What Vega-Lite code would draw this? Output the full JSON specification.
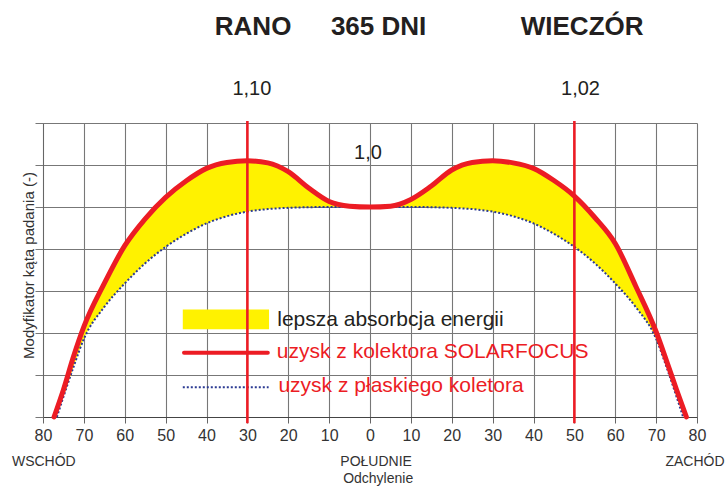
{
  "$schema": "https://vega.github.io/schema/vega-lite/v6.json",
  "width": 654,
  "height": 294,
  "autosize": "none",
  "padding": {"left": 43, "top": 123, "right": 30, "bottom": 69},
  "background": "white",
  "config": {
    "view": {"stroke": null},
    "font": "Liberation Sans",
    "text": {"font": "Liberation Sans"}
  },
  "datasets": {
    "band": [
      {"x": -77, "solar": 0, "flat": 0},
      {"x": -75, "solar": 0.65, "flat": 0.48},
      {"x": -72.5, "solar": 1.45, "flat": 1.2},
      {"x": -70, "solar": 2.15, "flat": 1.86},
      {"x": -65, "solar": 3.18, "flat": 2.62},
      {"x": -60, "solar": 4.08, "flat": 3.18},
      {"x": -55, "solar": 4.72, "flat": 3.66},
      {"x": -50, "solar": 5.23, "flat": 4.05},
      {"x": -45, "solar": 5.62, "flat": 4.36},
      {"x": -40, "solar": 5.92, "flat": 4.61},
      {"x": -35, "solar": 6.06, "flat": 4.78},
      {"x": -30, "solar": 6.1, "flat": 4.89},
      {"x": -25, "solar": 6.05, "flat": 4.95},
      {"x": -20, "solar": 5.84, "flat": 4.98},
      {"x": -15, "solar": 5.45, "flat": 4.995},
      {"x": -10, "solar": 5.13, "flat": 5.0},
      {"x": -5, "solar": 5.02, "flat": 5.0},
      {"x": 0, "solar": 5.0, "flat": 5.0},
      {"x": 5, "solar": 5.02, "flat": 5.0},
      {"x": 10, "solar": 5.18, "flat": 5.0},
      {"x": 15, "solar": 5.5, "flat": 4.995},
      {"x": 20, "solar": 5.88, "flat": 4.98},
      {"x": 25, "solar": 6.06, "flat": 4.95},
      {"x": 30, "solar": 6.1, "flat": 4.89},
      {"x": 35, "solar": 6.05, "flat": 4.78},
      {"x": 40, "solar": 5.92, "flat": 4.61},
      {"x": 45, "solar": 5.63, "flat": 4.36},
      {"x": 50, "solar": 5.26, "flat": 4.05},
      {"x": 55, "solar": 4.75, "flat": 3.66},
      {"x": 60, "solar": 4.13, "flat": 3.18},
      {"x": 65, "solar": 3.12, "flat": 2.62},
      {"x": 70, "solar": 2.03, "flat": 1.86},
      {"x": 72.5, "solar": 1.35, "flat": 1.2},
      {"x": 75, "solar": 0.65, "flat": 0.48},
      {"x": 77, "solar": 0, "flat": 0}
    ],
    "solar": [
      {"x": -77.3, "y": 0},
      {"x": -75, "y": 0.65},
      {"x": -72.5, "y": 1.45},
      {"x": -70, "y": 2.15},
      {"x": -65, "y": 3.18},
      {"x": -60, "y": 4.08},
      {"x": -55, "y": 4.72},
      {"x": -50, "y": 5.23},
      {"x": -45, "y": 5.62},
      {"x": -40, "y": 5.92},
      {"x": -35, "y": 6.06},
      {"x": -30, "y": 6.1},
      {"x": -25, "y": 6.05},
      {"x": -20, "y": 5.84},
      {"x": -15, "y": 5.45},
      {"x": -10, "y": 5.13},
      {"x": -5, "y": 5.02},
      {"x": 0, "y": 5.0},
      {"x": 5, "y": 5.02},
      {"x": 10, "y": 5.18},
      {"x": 15, "y": 5.5},
      {"x": 20, "y": 5.88},
      {"x": 25, "y": 6.06},
      {"x": 30, "y": 6.1},
      {"x": 35, "y": 6.05},
      {"x": 40, "y": 5.92},
      {"x": 45, "y": 5.63},
      {"x": 50, "y": 5.26},
      {"x": 55, "y": 4.75},
      {"x": 60, "y": 4.13},
      {"x": 65, "y": 3.12},
      {"x": 70, "y": 2.03},
      {"x": 72.5, "y": 1.35},
      {"x": 75, "y": 0.65},
      {"x": 77.4, "y": 0}
    ],
    "flat": [
      {"x": -76.6, "y": 0},
      {"x": -75, "y": 0.48},
      {"x": -72.5, "y": 1.2},
      {"x": -70, "y": 1.86},
      {"x": -65, "y": 2.62},
      {"x": -60, "y": 3.18},
      {"x": -55, "y": 3.66},
      {"x": -50, "y": 4.05},
      {"x": -45, "y": 4.36},
      {"x": -40, "y": 4.61},
      {"x": -35, "y": 4.78},
      {"x": -30, "y": 4.89},
      {"x": -25, "y": 4.95},
      {"x": -20, "y": 4.98},
      {"x": -15, "y": 4.995},
      {"x": -10, "y": 5.0},
      {"x": 0, "y": 5.0},
      {"x": 10, "y": 5.0},
      {"x": 15, "y": 4.995},
      {"x": 20, "y": 4.98},
      {"x": 25, "y": 4.95},
      {"x": 30, "y": 4.89},
      {"x": 35, "y": 4.78},
      {"x": 40, "y": 4.61},
      {"x": 45, "y": 4.36},
      {"x": 50, "y": 4.05},
      {"x": 55, "y": 3.66},
      {"x": 60, "y": 3.18},
      {"x": 65, "y": 2.62},
      {"x": 70, "y": 1.86},
      {"x": 72.5, "y": 1.2},
      {"x": 75, "y": 0.48},
      {"x": 76.6, "y": 0}
    ]
  },
  "layer": [
    {
      "data": {"name": "band"},
      "mark": {"type": "area", "color": "#fff200", "interpolate": "monotone"},
      "encoding": {
        "x": {
          "field": "x", "type": "quantitative", "title": null,
          "scale": {"domain": [-80, 80], "nice": false, "zero": false},
          "axis": {
            "title": null,
            "values": [-80, -70, -60, -50, -40, -30, -20, -10, 0, 10, 20, 30, 40, 50, 60, 70, 80],
            "labelExpr": "abs(datum.value)",
            "labelFont": "Liberation Sans",
            "labelFontSize": 16,
            "labelColor": "#333333",
            "labelPadding": 4,
            "labelFlush": false,
            "labelOverlap": false,
            "tickSize": 6,
            "tickColor": "#666666",
            "domainColor": "#444444",
            "grid": true,
            "gridColor": "#777777",
            "gridWidth": 1.1
          }
        },
        "y": {
          "field": "solar", "type": "quantitative", "title": "Modyfikator kąta padania (-)",
          "scale": {"domain": [0, 7], "nice": false},
          "axis": {
            "title": "Modyfikator kąta padania (-)",
            "values": [0, 1, 2, 3, 4, 5, 6, 7],
            "labels": false,
            "tickSize": 8,
            "tickColor": "#777777",
            "domainColor": "#666666",
            "grid": true,
            "gridColor": "#777777",
            "gridWidth": 1.1,
            "titleX": -15,
            "titleY": 142,
            "titleAngle": -90,
            "titleAlign": "center",
            "titleBaseline": "middle",
            "titleFont": "Liberation Sans",
            "titleFontSize": 15,
            "titleFontWeight": "normal",
            "titleColor": "#333333"
          }
        },
        "y2": {"field": "flat"}
      }
    },
    {
      "data": {"name": "flat"},
      "mark": {"type": "line", "color": "#2b3a92", "strokeWidth": 2, "strokeDash": [2, 2], "interpolate": "monotone"},
      "encoding": {
        "x": {"field": "x", "type": "quantitative", "title": null},
        "y": {"field": "y", "type": "quantitative", "title": "Modyfikator kąta padania (-)"}
      }
    },
    {
      "data": {"name": "solar"},
      "mark": {"type": "line", "color": "#ec1c24", "strokeWidth": 5, "interpolate": "monotone", "strokeCap": "round"},
      "encoding": {
        "x": {"field": "x", "type": "quantitative", "title": null},
        "y": {"field": "y", "type": "quantitative", "title": "Modyfikator kąta padania (-)"}
      }
    },
    {
      "data": {"values": [{"x1": -45.8, "x2": -24.7, "y1": 2.09, "y2": 2.56}]},
      "mark": {"type": "rect", "color": "#fff200"},
      "encoding": {
        "x": {"field": "x1", "type": "quantitative", "title": null},
        "x2": {"field": "x2"},
        "y": {"field": "y1", "type": "quantitative", "title": "Modyfikator kąta padania (-)"},
        "y2": {"field": "y2"}
      }
    },
    {
      "data": {"values": [{"x1": -45.5, "x2": -25, "y": 1.53}]},
      "mark": {"type": "rule", "color": "#ec1c24", "strokeWidth": 4, "strokeCap": "round"},
      "encoding": {
        "x": {"field": "x1", "type": "quantitative", "title": null},
        "x2": {"field": "x2"},
        "y": {"field": "y", "type": "quantitative", "title": "Modyfikator kąta padania (-)"}
      }
    },
    {
      "data": {"values": [{"x1": -45.8, "x2": -24.8, "y": 0.71}]},
      "mark": {"type": "rule", "color": "#2b3a92", "strokeWidth": 2, "strokeDash": [2, 2]},
      "encoding": {
        "x": {"field": "x1", "type": "quantitative", "title": null},
        "x2": {"field": "x2"},
        "y": {"field": "y", "type": "quantitative", "title": "Modyfikator kąta padania (-)"}
      }
    },
    {
      "data": {"values": [{"x": -30, "y1": -0.15, "y2": 7.05}, {"x": 50, "y1": -0.15, "y2": 7.05}]},
      "mark": {"type": "rule", "color": "#ec1c24", "strokeWidth": 2.6},
      "encoding": {
        "x": {"field": "x", "type": "quantitative", "title": null},
        "y": {"field": "y1", "type": "quantitative", "title": "Modyfikator kąta padania (-)"},
        "y2": {"field": "y2"}
      }
    },
    {
      "data": {"values": [
        {"x": -22.7, "y": 2.31, "label": "lepsza absorbcja energii"}
      ]},
      "mark": {"type": "text", "align": "left", "baseline": "middle", "fontSize": 21, "color": "#231f20", "font": "Liberation Sans"},
      "encoding": {
        "x": {"field": "x", "type": "quantitative", "title": null},
        "y": {"field": "y", "type": "quantitative", "title": "Modyfikator kąta padania (-)"},
        "text": {"field": "label"}
      }
    },
    {
      "data": {"values": [
        {"x": -22.8, "y": 1.55, "label": "uzysk z kolektora SOLARFOCUS"},
        {"x": -22.4, "y": 0.74, "label": "uzysk z płaskiego koletora"}
      ]},
      "mark": {"type": "text", "align": "left", "baseline": "middle", "fontSize": 21, "color": "#ec1c24", "font": "Liberation Sans"},
      "encoding": {
        "x": {"field": "x", "type": "quantitative", "title": null},
        "y": {"field": "y", "type": "quantitative", "title": "Modyfikator kąta padania (-)"},
        "text": {"field": "label"}
      }
    },
    {
      "data": {"values": [
        {"x": -28.9, "y": 7.82, "label": "1,10"},
        {"x": 51.5, "y": 7.82, "label": "1,02"},
        {"x": -0.5, "y": 6.29, "label": "1,0"}
      ]},
      "mark": {"type": "text", "align": "center", "baseline": "middle", "fontSize": 20, "color": "#231f20", "font": "Liberation Sans"},
      "encoding": {
        "x": {"field": "x", "type": "quantitative", "title": null},
        "y": {"field": "y", "type": "quantitative", "title": "Modyfikator kąta padania (-)"},
        "text": {"field": "label"}
      }
    },
    {
      "data": {"values": [
        {"x": -28.6, "y": 9.29, "label": "RANO"},
        {"x": 2.1, "y": 9.29, "label": "365 DNI"},
        {"x": 51.9, "y": 9.29, "label": "WIECZÓR"}
      ]},
      "mark": {"type": "text", "align": "center", "baseline": "middle", "fontSize": 26, "fontWeight": "bold", "color": "#231f20", "font": "Liberation Sans"},
      "encoding": {
        "x": {"field": "x", "type": "quantitative", "title": null},
        "y": {"field": "y", "type": "quantitative", "title": "Modyfikator kąta padania (-)"},
        "text": {"field": "label"}
      }
    },
    {
      "data": {"values": [
        {"x": -79.8, "y": -1.07, "label": "WSCHÓD"},
        {"x": 1.5, "y": -1.07, "label": "POŁUDNIE"},
        {"x": 79.5, "y": -1.07, "label": "ZACHÓD"},
        {"x": 2, "y": -1.48, "label": "Odchylenie"}
      ]},
      "mark": {"type": "text", "align": "center", "baseline": "middle", "fontSize": 14, "color": "#333333", "font": "Liberation Sans"},
      "encoding": {
        "x": {"field": "x", "type": "quantitative", "title": null},
        "y": {"field": "y", "type": "quantitative", "title": "Modyfikator kąta padania (-)"},
        "text": {"field": "label"}
      }
    }
  ]
}
